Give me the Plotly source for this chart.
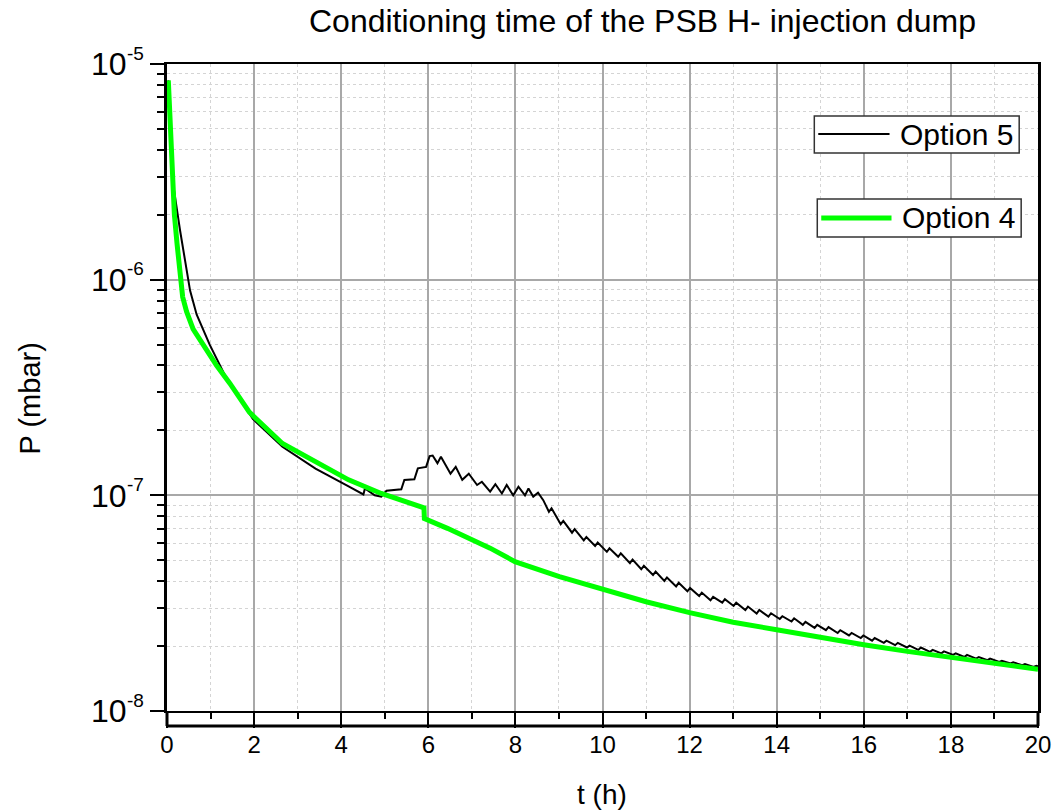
import plotly.graph_objects as go

# ---------------- data ----------------
t_opt5 = [0.03, 0.06, 0.09, 0.15, 0.30, 0.49, 0.53, 0.68, 0.98, 1.36, 1.97, 2.65, 3.41, 4.17,
          4.51, 4.545, 4.77, 4.92, 5.04, 5.38, 5.45, 5.68, 5.76, 5.95, 6.03, 6.10, 6.21, 6.29,
          6.51, 6.63, 6.78, 6.93, 7.12, 7.23, 7.42, 7.54, 7.69, 7.80, 7.95, 8.07, 8.22, 8.30,
          8.41, 8.52, 8.64,
          8.77, 8.83, 9.04, 9.10, 9.30, 9.36, 9.57, 9.63, 9.83, 9.89,
          10.10, 10.16, 10.36, 10.42, 10.63, 10.69, 10.89, 10.95, 11.16, 11.22,
          11.42, 11.48, 11.69, 11.75, 11.95, 12.01, 12.22, 12.28, 12.48, 12.54,
          12.75, 12.81, 13.01, 13.07, 13.28, 13.34, 13.54, 13.60, 13.81, 13.87,
          14.07, 14.13, 14.34, 14.40, 14.60, 14.66, 14.87, 14.93, 15.13, 15.19,
          15.40, 15.46, 15.66, 15.72, 15.93, 15.99, 16.19, 16.25, 16.46, 16.52,
          16.72, 16.78, 16.99, 17.05, 17.25, 17.31, 17.52, 17.58, 17.78, 17.84,
          18.05, 18.11, 18.31, 18.37, 18.58, 18.64, 18.84, 18.90, 19.11, 19.17,
          19.37, 19.43, 19.64, 19.70, 19.90, 19.96, 20.0]
p_opt5 = [8.4e-6, 6.3e-6, 4.2e-6, 2.69e-6, 1.69e-6, 1.0e-6, 8.9e-7, 6.9e-7, 5.0e-7, 3.5e-7,
          2.26e-7, 1.68e-7, 1.33e-7, 1.10e-7,
          1.01e-7, 1.076e-7, 1.00e-7, 9.86e-8, 1.05e-7, 1.066e-7, 1.178e-7, 1.186e-7, 1.334e-7,
          1.355e-7, 1.52e-7, 1.53e-7, 1.41e-7, 1.51e-7,
          1.26e-7, 1.355e-7, 1.18e-7, 1.26e-7, 1.117e-7, 1.156e-7, 1.04e-7, 1.127e-7, 1.02e-7,
          1.117e-7, 1.00e-7, 1.096e-7, 1.00e-7, 1.076e-7,
          9.86e-8, 1.028e-7, 9.5e-8,
          8.39e-8, 8.71e-8, 7.35e-8, 7.62e-8, 6.71e-8, 6.97e-8, 6.18e-8, 6.41e-8, 5.82e-8, 6.04e-8,
          5.47e-8, 5.68e-8, 5.19e-8, 5.38e-8, 4.85e-8, 5.04e-8, 4.54e-8, 4.71e-8, 4.27e-8, 4.43e-8,
          4.01e-8, 4.16e-8, 3.78e-8, 3.93e-8, 3.59e-8, 3.72e-8, 3.41e-8, 3.54e-8, 3.26e-8, 3.38e-8,
          3.18e-8, 3.30e-8, 3.07e-8, 3.18e-8, 2.94e-8, 3.05e-8, 2.83e-8, 2.94e-8, 2.74e-8, 2.84e-8,
          2.67e-8, 2.75e-8, 2.60e-8, 2.69e-8, 2.51e-8, 2.59e-8, 2.43e-8, 2.51e-8, 2.37e-8, 2.45e-8,
          2.30e-8, 2.37e-8, 2.24e-8, 2.30e-8, 2.18e-8, 2.24e-8, 2.12e-8, 2.18e-8, 2.07e-8, 2.12e-8,
          2.02e-8, 2.07e-8, 1.97e-8, 2.01e-8, 1.92e-8, 1.97e-8, 1.88e-8, 1.92e-8, 1.85e-8, 1.89e-8,
          1.82e-8, 1.85e-8, 1.78e-8, 1.82e-8, 1.75e-8, 1.78e-8, 1.72e-8, 1.75e-8, 1.69e-8, 1.71e-8,
          1.66e-8, 1.68e-8, 1.63e-8, 1.65e-8, 1.60e-8, 1.62e-8, 1.61e-8]

t_opt4 = [0.03, 0.06, 0.09, 0.12, 0.17, 0.23, 0.30, 0.36, 0.45, 0.60, 0.83, 1.14, 1.44, 1.89,
          2.65, 3.41, 4.17, 4.92, 5.90, 5.91, 6.44, 7.42, 7.99, 9.01, 10.0, 11.0, 12.0, 13.0,
          14.0, 15.0, 16.0, 17.0, 18.0, 19.0, 20.0]
p_opt4 = [8.4e-6, 6.3e-6, 4.0e-6, 2.9e-6, 2.0e-6, 1.47e-6, 1.07e-6, 8.3e-7, 7.1e-7, 5.9e-7,
          5.0e-7, 4.0e-7, 3.31e-7, 2.43e-7, 1.74e-7, 1.43e-7, 1.18e-7, 1.02e-7, 8.75e-8, 7.8e-8,
          7.03e-8, 5.69e-8, 4.93e-8, 4.2e-8, 3.65e-8, 3.21e-8, 2.86e-8, 2.58e-8, 2.38e-8,
          2.19e-8, 2.03e-8, 1.89e-8, 1.78e-8, 1.67e-8, 1.56e-8]

series_names = ["Option 5", "Option 4"]
y_tickvals = [1e-8, 1e-7, 1e-6, 1e-5]
y_ticktext = ["10", "10", "10", "10"]
y_exponents = [-8, -7, -6, -5]
x_tickvals = [0, 2, 4, 6, 8, 10, 12, 14, 16, 18, 20]

FONT = "Arial, 'Liberation Sans', sans-serif"

fig = go.Figure()
fig.add_trace(go.Scatter(x=t_opt5, y=p_opt5, mode="lines", name=series_names[0],
                         line=dict(color="black", width=2)))
fig.add_trace(go.Scatter(x=t_opt4, y=p_opt4, mode="lines", name=series_names[1],
                         line=dict(color="#00ff00", width=5)))

minor_y = [m * 10.0 ** e for e in (-8, -7, -6) for m in range(2, 10)]

fig.update_layout(
    width=1063, height=810,
    margin=dict(l=167, r=16, t=64, b=99),
    paper_bgcolor="white", plot_bgcolor="white",
    showlegend=False,
    font=dict(family=FONT, color="black"),
    title=dict(text="Conditioning time of the PSB H- injection dump",
               font=dict(size=32, family=FONT, color="black"),
               x=642.5 / 1063, xanchor="center", xref="container",
               y=1 - 21 / 810, yanchor="middle", yref="container"),
)

fig.update_xaxes(
    range=[0, 20], tickvals=x_tickvals,
    showline=True, linecolor="black", linewidth=2, mirror=True,
    ticks="outside", ticklen=15, tickwidth=2, tickcolor="black",
    ticklabelstandoff=-4,
    tickfont=dict(size=24, family=FONT, color="black"),
    showgrid=True, gridcolor="#a8a8a8", gridwidth=1.5,
    zeroline=False,
    minor=dict(dtick=1, ticks="outside", ticklen=6, tickwidth=2, tickcolor="black",
               showgrid=True, gridcolor="#d4d4d4", griddash="dot", gridwidth=1),
)
fig.update_yaxes(
    type="log", range=[-8, -5], tickvals=y_tickvals, ticktext=y_ticktext,
    showline=True, linecolor="black", linewidth=3, mirror=True,
    ticks="outside", ticklen=14, tickwidth=2, tickcolor="black",
    ticklabelstandoff=17,
    tickfont=dict(size=32, family=FONT, color="black"),
    showgrid=True, gridcolor="#a8a8a8", gridwidth=1.5,
    zeroline=False,
    minor=dict(tickvals=minor_y, ticks="outside", ticklen=7, tickwidth=2, tickcolor="black",
               showgrid=True, gridcolor="#d4d4d4", griddash="dot", gridwidth=1),
)

# exponents of the y tick labels (10^n)
for ex in y_exponents:
    fig.add_annotation(xref="paper", yref="y", x=(125 - 167) / 880, y=ex,
                       xanchor="left", yanchor="middle", yshift=11, showarrow=False,
                       text=str(ex), font=dict(size=19, family=FONT, color="black"))

# second (offset) x axis line below the frame, as in the original
yb = -15 / 647
fig.add_shape(type="line", xref="paper", yref="paper", x0=0, x1=1, y0=yb, y1=yb,
              line=dict(color="black", width=3))
fig.add_shape(type="line", xref="paper", yref="paper", x0=0, x1=0, y0=yb, y1=0,
              line=dict(color="black", width=3))
fig.add_shape(type="line", xref="paper", yref="paper", x0=1, x1=1, y0=yb, y1=0,
              line=dict(color="black", width=3))


def px_x(x):
    return (x - 167) / 880


def px_y(y):
    return (711 - y) / 647


# legend boxes (drawn as two separate framed entries like the original)
legend_entries = [
    dict(box=(821, 116, 1028, 153), line=(825, 897, 134), text_x=906,
         color="black", width=2, name=series_names[0]),
    dict(box=(824, 199, 1030, 237), line=(828, 899, 218), text_x=908,
         color="#00ff00", width=5, name=series_names[1]),
]
for e in legend_entries:
    bx0, by0, bx1, by1 = e["box"]
    fig.add_shape(type="rect", xref="paper", yref="paper", layer="above",
                  x0=px_x(bx0), x1=px_x(bx1), y0=px_y(by1), y1=px_y(by0),
                  line=dict(color="#333333", width=1.5), fillcolor="white")
    lx0, lx1, ly = e["line"]
    fig.add_shape(type="line", xref="paper", yref="paper", layer="above",
                  x0=px_x(lx0), x1=px_x(lx1), y0=px_y(ly), y1=px_y(ly),
                  line=dict(color=e["color"], width=e["width"]))
    fig.add_annotation(xref="paper", yref="paper", x=px_x(e["text_x"]), y=px_y(ly),
                       xanchor="left", yanchor="middle", showarrow=False,
                       text=e["name"], font=dict(size=30, family=FONT, color="black"))

# axis titles
fig.add_annotation(xref="paper", yref="paper", x=px_x(606), y=px_y(794),
                   xanchor="center", yanchor="middle", showarrow=False,
                   text="t (h)", font=dict(size=28, family=FONT, color="black"))
fig.add_annotation(xref="paper", yref="paper", x=px_x(29), y=px_y(398),
                   xanchor="center", yanchor="middle", showarrow=False, textangle=-90,
                   text="P (mbar)", font=dict(size=29, family=FONT, color="black"))

fig.write_html("out.html")
